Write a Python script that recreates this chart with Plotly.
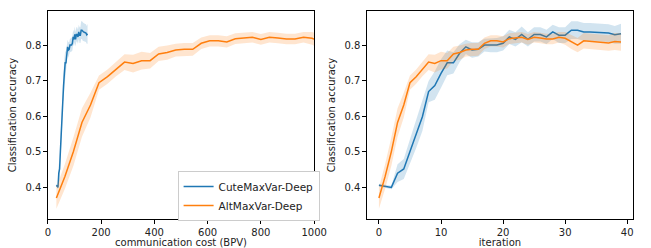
import plotly.graph_objects as go

iterations = list(range(40))

cute_mean = [0.405, 0.402, 0.399, 0.439, 0.451, 0.500, 0.550, 0.598, 0.669, 0.686,
             0.720, 0.750, 0.750, 0.777, 0.795, 0.786, 0.788, 0.800, 0.800, 0.800,
             0.805, 0.823, 0.816, 0.830, 0.816, 0.830, 0.830, 0.823, 0.837, 0.828,
             0.828, 0.842, 0.842, 0.837, 0.837, 0.836, 0.835, 0.834, 0.829, 0.832]
cute_std = [0.004, 0.004, 0.005, 0.025, 0.028, 0.035, 0.040, 0.040, 0.030, 0.040,
            0.040, 0.035, 0.030, 0.025, 0.020, 0.022, 0.020, 0.018, 0.020, 0.020,
            0.020, 0.020, 0.020, 0.022, 0.020, 0.020, 0.020, 0.020, 0.020, 0.022,
            0.022, 0.025, 0.025, 0.025, 0.025, 0.025, 0.025, 0.025, 0.025, 0.028]

alt_mean = [0.369, 0.430, 0.500, 0.582, 0.631, 0.694, 0.711, 0.732, 0.752, 0.748,
            0.756, 0.756, 0.775, 0.779, 0.786, 0.788, 0.788, 0.805, 0.812, 0.812,
            0.809, 0.818, 0.820, 0.822, 0.816, 0.822, 0.820, 0.817, 0.817, 0.822,
            0.819, 0.809, 0.800, 0.812, 0.810, 0.808, 0.808, 0.806, 0.810, 0.809]
alt_std = [0.030, 0.035, 0.040, 0.040, 0.035, 0.020, 0.020, 0.020, 0.022, 0.025,
           0.025, 0.022, 0.020, 0.020, 0.018, 0.018, 0.018, 0.016, 0.016, 0.016,
           0.016, 0.015, 0.015, 0.015, 0.015, 0.015, 0.015, 0.015, 0.015, 0.015,
           0.018, 0.020, 0.020, 0.022, 0.022, 0.022, 0.022, 0.022, 0.024, 0.025]

# communication cost (BPV) per iteration
cute_cost = [32 + 3 * i for i in iterations]
alt_cost = [32 * (i + 1) for i in iterations]

names = ["CuteMaxVar-Deep", "AltMaxVar-Deep"]
colors = ["#1f77b4", "#ff7f0e"]
bands = ["rgba(31,119,180,0.2)", "rgba(255,127,14,0.2)"]

left_xticks = [0, 200, 400, 600, 800, 1000]
right_xticks = [0, 10, 20, 30, 40]
yticks = [0.4, 0.5, 0.6, 0.7, 0.8]

fig = go.Figure()

def add(xs, mean, std, color, band, name, xa, ya, show):
    upper = [m + s for m, s in zip(mean, std)]
    lower = [m - s for m, s in zip(mean, std)]
    fig.add_trace(go.Scatter(x=xs + xs[::-1], y=upper + lower[::-1], fill="toself",
                             fillcolor=band, line=dict(width=0), mode="lines",
                             hoverinfo="skip", showlegend=False, xaxis=xa, yaxis=ya))
    fig.add_trace(go.Scatter(x=xs, y=mean, mode="lines", line=dict(color=color, width=1.5),
                             name=name, showlegend=show, xaxis=xa, yaxis=ya))

add(cute_cost, cute_mean, cute_std, colors[0], bands[0], names[0], "x", "y", True)
add(alt_cost, alt_mean, alt_std, colors[1], bands[1], names[1], "x", "y", True)
add(iterations, cute_mean, cute_std, colors[0], bands[0], names[0], "x2", "y2", False)
add(iterations, alt_mean, alt_std, colors[1], bands[1], names[1], "x2", "y2", False)

font = dict(family="DejaVu Sans", size=10, color="#222")
axcommon = dict(showgrid=False, zeroline=False, showline=True, linecolor="black",
                linewidth=1, mirror=True, ticks="outside", ticklen=3.5, tickwidth=0.8,
                tickcolor="black", tickfont=font, title_font=font)

ydom = [1 - 219 / 248, 1 - 11 / 248]
fig.update_layout(
    width=651, height=248,
    margin=dict(l=0, r=0, t=0, b=0),
    paper_bgcolor="white", plot_bgcolor="white",
    font=font,
    xaxis=dict(domain=[46 / 651, 319 / 651], range=[0, 1000], tickvals=left_xticks,
               title=dict(text="communication cost (BPV)", standoff=1), anchor="y", **axcommon),
    yaxis=dict(domain=ydom, range=[0.31, 0.896], tickvals=yticks, tickformat=".1f",
               title=dict(text="Classification accuracy", standoff=6), anchor="x", **axcommon),
    xaxis2=dict(domain=[373 / 651, 646 / 651], range=[-1.95, 40.95], tickvals=right_xticks,
                title=dict(text="iteration", standoff=1), anchor="y2", **axcommon),
    yaxis2=dict(domain=ydom, range=[0.31, 0.896], tickvals=yticks, tickformat=".1f",
                title=dict(text="Classification accuracy", standoff=6), anchor="x2", **axcommon),
    legend=dict(x=179 / 651, y=1 - 171 / 248, xanchor="left", yanchor="top",
                bgcolor="white", bordercolor="#cccccc", borderwidth=1,
                font=dict(family="DejaVu Sans", size=10.5, color="#222"),
                itemwidth=30, tracegroupgap=0),
)

fig.write_html("out.html", config={"displayModeBar": False},
               post_script="document.body.style.margin='0';document.body.style.overflow='hidden';")
